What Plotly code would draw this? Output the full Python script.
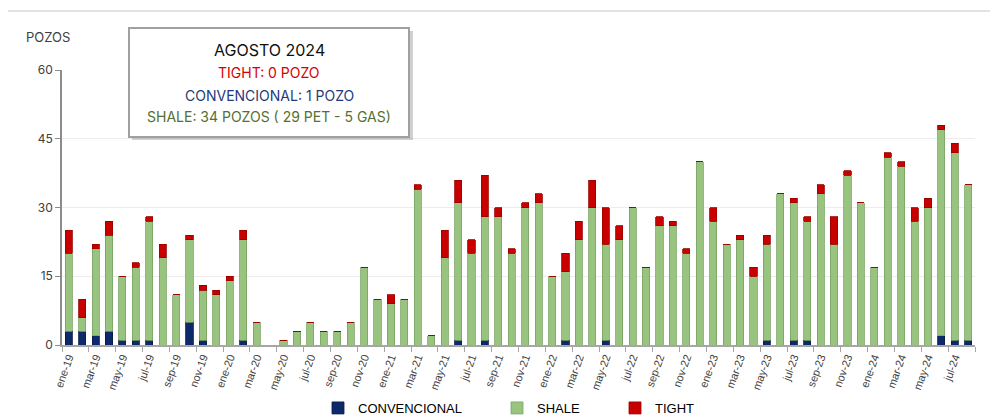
import plotly.graph_objects as go

months = ["ene", "feb", "mar", "abr", "may", "jun", "jul", "ago", "sep", "oct", "nov", "dic"]
categories = [f"{m}-{y}" for y in range(19, 25) for m in months][:68]

convencional = [3, 3, 2, 3, 1, 1, 1, 0, 0, 5, 1, 0,
                0, 1, 0, 0, 0, 0, 0, 0, 0, 0, 0, 0,
                0, 0, 0, 0, 0, 1, 0, 1, 0, 0, 0, 0,
                0, 1, 0, 0, 1, 0, 0, 0, 0, 0, 0, 0,
                0, 0, 0, 0, 1, 0, 1, 1, 0, 0, 0, 0,
                0, 0, 0, 0, 0, 2, 1, 1]
shale = [17, 3, 19, 21, 14, 16, 26, 19, 11, 18, 11, 11,
         14, 22, 5, 0, 1, 3, 5, 3, 3, 5, 17, 10,
         9, 10, 34, 2, 19, 30, 20, 27, 28, 20, 30, 31,
         15, 15, 23, 30, 21, 23, 30, 17, 26, 26, 20, 40,
         27, 22, 23, 15, 21, 33, 30, 26, 33, 22, 37, 31,
         17, 41, 39, 27, 30, 45, 41, 34]
tight = [5, 4, 1, 3, 0, 1, 1, 3, 0, 1, 1, 1,
         1, 2, 0, 0, 0, 0, 0, 0, 0, 0, 0, 0,
         2, 0, 1, 0, 6, 5, 3, 9, 2, 1, 1, 2,
         0, 4, 4, 6, 8, 3, 0, 0, 2, 1, 1, 0,
         3, 0, 1, 2, 2, 0, 1, 1, 2, 6, 1, 0,
         0, 1, 1, 3, 2, 1, 2, 0]

tick_idx = list(range(0, len(categories), 2))
tick_text = [categories[i] for i in tick_idx]
y_ticks = [0, 15, 30, 45, 60]

info_title = "AGOSTO 2024"
info_lines = ["TIGHT: 0 POZO", "CONVENCIONAL: 1 POZO", "SHALE: 34 POZOS ( 29 PET - 5 GAS)"]

x = list(range(len(categories)))

# the page body adds an 8px offset; work in page pixel coordinates
OFF = 8
W, H = 998 - OFF, 420 - OFF
PL, PR, PT, PB = 62, 975, 70, 345          # plot area in page pixels
L, R, T, B = PL - OFF, W - (PR - OFF), PT - OFF, H - (PB - OFF)
pw, ph = W - L - R, H - T - B


def px(v):
    return (v - PL) / pw


def py(v):
    return (PB - v) / ph


fig = go.Figure()
fig.add_trace(go.Bar(x=x, y=convencional, name="CONVENCIONAL", legend="legend",
                     marker=dict(color="#0C2A6A", line=dict(color="#071a45", width=0.8))))
fig.add_trace(go.Bar(x=x, y=shale, name="SHALE", legend="legend2",
                     marker=dict(color="#98C47F", line=dict(color="#7aa364", width=0.8))))
fig.add_trace(go.Bar(x=x, y=tight, name="TIGHT", legend="legend3",
                     marker=dict(color="#C80000", line=dict(color="#9a0000", width=0.8))))

legfont = dict(size=13, color="#000000", family="Liberation Sans, Arial, sans-serif")


def leg(left_px):
    return dict(xref="container", yref="container", x=(left_px - OFF) / W, xanchor="left",
                y=(H - (408 - OFF)) / H, yanchor="middle", font=legfont,
                bgcolor="rgba(0,0,0,0)", borderwidth=0)


fig.update_layout(
    width=W, height=H,
    margin=dict(l=L, r=R, t=T, b=B, autoexpand=False),
    barmode="stack",
    bargap=0.47,
    plot_bgcolor="white",
    paper_bgcolor="white",
    font=dict(family="Liberation Sans, Arial, sans-serif", color="#404040"),
    xaxis=dict(
        range=[-0.5, len(categories) - 0.5], automargin=False,
        tickmode="array", tickvals=tick_idx, ticktext=tick_text,
        tickangle=-70, ticks="", showgrid=False,
        tickfont=dict(size=11, color="#404040", family="Liberation Sans, Arial, sans-serif"),
        showline=True, linecolor="#a6a6a6", linewidth=1.5,
        minor=dict(tickmode="linear", tick0=-0.5, dtick=2, ticks="outside",
                   ticklen=5, tickcolor="#a6a6a6", tickwidth=1, showgrid=False),
        zeroline=False,
    ),
    yaxis=dict(
        range=[0, 60], automargin=False, tickmode="array", tickvals=y_ticks,
        ticks="outside", ticklen=5, tickcolor="#8c8c8c",
        showline=True, linecolor="#8c8c8c", linewidth=1.5,
        gridcolor="#ececec", gridwidth=1,
        tickfont=dict(size=12, color="#404040", family="Inter, sans-serif"),
        zeroline=False,
    ),
    legend=leg(318),
    legend2=leg(497),
    legend3=leg(615),
    showlegend=True,
)

# outer frame
fig.add_shape(type="rect", xref="paper", yref="paper",
              x0=px(6), x1=px(997), y0=py(440), y1=py(11),
              line=dict(color="#e3e3e3", width=2), fillcolor="rgba(0,0,0,0)", layer="below")

# info box: shadow + box
fig.add_shape(type="rect", xref="paper", yref="paper",
              x0=px(132), x1=px(413), y0=py(140), y1=py(31),
              line=dict(width=0), fillcolor="rgba(120,120,120,0.35)", layer="above")
fig.add_shape(type="rect", xref="paper", yref="paper",
              x0=px(129), x1=px(409), y0=py(137), y1=py(28),
              line=dict(color="#a0a0a0", width=2), fillcolor="white", layer="above")

fig.add_annotation(xref="paper", yref="paper", x=px(269), y=py(50),
                   xanchor="center", yanchor="middle", showarrow=False,
                   text=info_title, font=dict(size=16, color="#111111", family="Inter, sans-serif"))
for text, color, ypos in zip(info_lines, ["#D60000", "#1F3A7A", "#55702F"], [73, 95, 116]):
    fig.add_annotation(xref="paper", yref="paper", x=px(269), y=py(ypos),
                       xanchor="center", yanchor="middle", showarrow=False,
                       text=text, font=dict(size=14, color=color, family="Inter, sans-serif"))

fig.add_annotation(xref="paper", yref="paper", x=px(24), y=py(37),
                   xanchor="left", yanchor="middle", showarrow=False,
                   text="POZOS", font=dict(size=13, color="#404040", family="Inter, sans-serif"))

fig.write_html("out.html")
